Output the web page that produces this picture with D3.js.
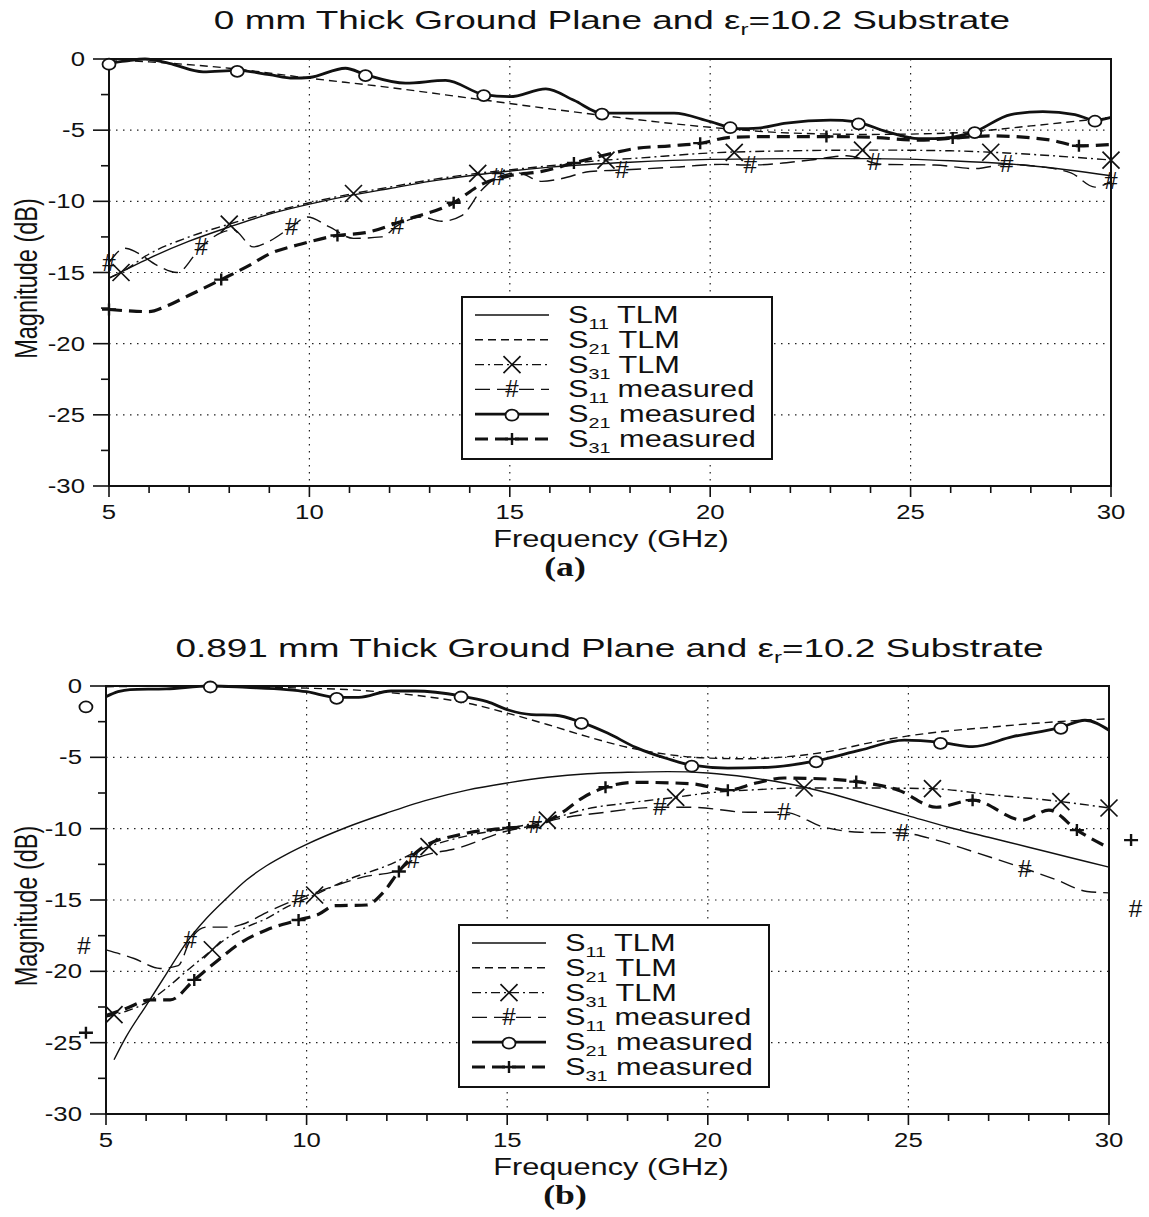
<!DOCTYPE html>
<html>
<head>
<meta charset="utf-8">
<script src="https://cdn.jsdelivr.net/npm/d3@7"></script>
<style>
  body { margin: 0; background: #fff; }
</style>
</head>
<body>
<svg id="fig" width="1149" height="1217"></svg>
<script>
// ---------- shared ----------
const freqTicks = [5, 10, 15, 20, 25, 30];
const dbTicks = [0, -5, -10, -15, -20, -25, -30];
const legendSub = ["11", "21", "31", "11", "21", "31"];
const legendTail = ["TLM", "TLM", "TLM", "measured", "measured", "measured"];
const seriesKeys = ["s11Tlm", "s21Tlm", "s31Tlm", "s11Meas", "s21Meas", "s31Meas"];

// ---------- panel (a): 0 mm ground plane ----------
const titleA = "0 mm Thick Ground Plane and ";
const s11TlmA = [[5,-15.4],[6,-14.0],[7,-12.8],[8,-11.8],[9,-10.9],[10,-10.2],[11,-9.6],[12,-9.1],[13,-8.6],[14,-8.2],[16,-7.6],[18,-7.25],[20,-7.05],[22,-7.0],[24,-7.0],[26,-7.15],[28,-7.5],[30,-8.2]];
const s21TlmA = [[5,-0.05],[6,-0.2],[8,-0.65],[10,-1.35],[12,-2.0],[14,-2.75],[16,-3.5],[18,-4.2],[20,-4.8],[22,-5.2],[24,-5.3],[26,-5.2],[28,-4.7],[30,-4.1]];
const s31TlmA = [[5,-15.4],[5.3,-15.0],[6,-13.7],[7,-12.5],[8,-11.6],[9,-10.8],[10,-10.1],[11,-9.5],[12,-9.0],[13,-8.5],[14,-8.1],[16,-7.5],[17.4,-7.1],[18,-7.0],[20,-6.6],[22,-6.45],[24,-6.4],[26,-6.45],[27,-6.55],[28,-6.7],[30,-7.1]];
const s11MeasA = [[5.0,-14.3],[5.4,-13.3],[5.7,-13.6],[6.2,-14.5],[6.7,-15.0],[7.3,-13.2],[7.8,-12.2],[8.1,-12.0],[8.6,-13.2],[9.0,-12.8],[9.55,-11.8],[9.95,-11.1],[10.5,-11.8],[11.1,-12.6],[11.8,-12.5],[12.2,-11.7],[12.8,-11.1],[13.3,-11.4],[13.8,-11.0],[14.3,-9.2],[14.7,-8.3],[15.2,-8.0],[15.8,-8.6],[16.3,-8.4],[17.0,-7.9],[17.8,-7.8],[19.1,-7.6],[20.3,-7.4],[21.0,-7.45],[22.5,-7.1],[23.4,-6.8],[24.3,-7.4],[25.6,-7.45],[26.6,-7.7],[27.4,-7.4],[28.0,-7.5],[29.0,-8.0],[29.6,-9.0],[30.0,-8.6]];
const s21MeasA = [[5,-0.3],[5.4,-0.15],[5.9,0],[6.5,-0.3],[7.35,-0.9],[8.2,-0.8],[9.0,-1.1],[9.6,-1.35],[10.0,-1.3],[10.9,-0.65],[11.4,-1.1],[12.4,-1.7],[13.4,-1.5],[14.35,-2.5],[15.0,-2.65],[15.9,-2.1],[16.6,-2.9],[17.3,-3.8],[18.2,-3.8],[19.1,-3.8],[20.0,-4.4],[20.7,-4.9],[21.2,-4.85],[21.9,-4.5],[23.0,-4.3],[23.6,-4.4],[24.4,-5.1],[25.2,-5.6],[25.6,-5.6],[26.6,-5.1],[27.5,-3.9],[28.3,-3.7],[29.1,-3.9],[29.6,-4.3],[30,-4.1]];
const s31MeasA = [[5,-17.6],[5.5,-17.7],[6,-17.75],[6.4,-17.4],[7,-16.6],[7.8,-15.5],[8.5,-14.5],[9,-13.7],[9.8,-13.0],[10.7,-12.4],[11.4,-12.2],[12.4,-11.3],[13.6,-10.1],[14.3,-8.8],[15,-8.2],[15.8,-7.9],[16.6,-7.3],[17.3,-6.8],[18.1,-6.3],[19.0,-6.1],[19.8,-5.9],[20.5,-5.5],[21.5,-5.45],[22.9,-5.45],[24.0,-5.5],[25.2,-5.7],[26.3,-5.5],[27.0,-5.4],[28.5,-5.7],[29.2,-6.1],[30,-6.0]];
const xMarksA = [5.3, 8.0, 11.1, 14.2, 17.4, 20.6, 23.8, 27.0, 30.0];
const hashMarksA = [5.0, 7.3, 9.55, 12.2, 14.7, 17.8, 21.0, 24.1, 27.4, 30.0];
const circMarksA = [5.0, 8.2, 11.4, 14.35, 17.3, 20.5, 23.7, 26.6, 29.6];
const plusMarksA = [5.0, 7.8, 10.7, 13.6, 16.6, 19.75, 22.9, 26.05, 29.2];
const strayA = [];

// ---------- panel (b): 0.891 mm ground plane ----------
const titleB = "0.891 mm Thick Ground Plane and ";
const s11TlmB = [[5.2,-26.2],[5.5,-24.6],[6,-22.4],[6.5,-20.2],[7,-18.0],[7.5,-16.3],[8,-14.9],[8.5,-13.6],[9,-12.6],[9.5,-11.8],[10,-11.1],[11,-9.9],[12,-8.9],[13,-8.0],[14,-7.3],[15,-6.8],[16,-6.4],[17,-6.15],[18,-6.05],[19,-6.0],[20,-6.1],[21,-6.4],[22,-6.85],[23,-7.5],[24,-8.3],[25,-9.1],[26,-9.9],[27,-10.6],[28,-11.3],[29,-12.0],[30,-12.7]];
const s21TlmB = [[5,-0.05],[7,0],[8,-0.05],[10,-0.15],[11,-0.25],[12,-0.45],[13,-0.75],[14,-1.2],[15,-1.9],[16,-2.7],[17,-3.55],[18,-4.3],[19,-4.8],[20,-5.05],[21,-5.1],[22,-4.95],[23,-4.6],[24,-4.0],[25,-3.5],[26,-3.15],[27,-2.9],[28,-2.65],[29,-2.45],[30,-2.3]];
const s31TlmB = [[5,-23.2],[5.5,-22.8],[6,-22.2],[6.5,-21.2],[7,-20.0],[7.6,-18.6],[8,-17.7],[8.5,-16.9],[9,-16.3],[9.5,-15.5],[10.2,-14.65],[11,-13.6],[12,-12.6],[13,-11.3],[14,-10.5],[15,-10.0],[16,-9.4],[17,-8.6],[18,-8.2],[19.2,-7.8],[20,-7.5],[21,-7.3],[22.4,-7.15],[24,-7.15],[25.6,-7.2],[27,-7.6],[28.8,-8.1],[30,-8.55]];
const s11MeasB = [[5.0,-18.5],[5.7,-19.1],[6.35,-19.8],[6.8,-19.6],[7.1,-17.8],[7.5,-16.9],[8.1,-16.9],[8.4,-16.7],[9.05,-15.8],[9.8,-14.9],[10.2,-14.5],[11.4,-13.4],[12.3,-12.9],[12.65,-12.2],[13.85,-11.3],[14.95,-10.2],[15.7,-9.75],[16.3,-9.3],[17.3,-8.9],[18.8,-8.5],[19.6,-8.5],[21.0,-8.85],[21.9,-8.85],[22.9,-9.9],[23.8,-10.25],[24.85,-10.3],[25.7,-10.8],[26.6,-11.6],[27.9,-12.8],[28.7,-13.6],[29.45,-14.4],[30.0,-14.5]];
const s21MeasB = [[5.0,-0.75],[5.3,-0.4],[5.6,-0.25],[6.5,-0.2],[7.6,0],[8.5,-0.1],[9.5,-0.25],[10.0,-0.4],[10.75,-0.8],[11.3,-0.8],[12.1,-0.35],[12.7,-0.35],[13.85,-0.7],[14.5,-1.1],[15.05,-1.7],[15.6,-2.0],[16.2,-2.05],[16.85,-2.55],[17.5,-3.3],[18.2,-4.3],[19.0,-5.1],[19.6,-5.55],[20.5,-5.75],[21.5,-5.7],[22.7,-5.25],[23.8,-4.5],[24.9,-3.8],[25.8,-3.95],[26.6,-4.25],[27.6,-3.55],[28.8,-2.9],[29.4,-2.4],[30.0,-3.1]];
const s31MeasB = [[5.0,-23.1],[5.5,-22.6],[6.1,-22.0],[6.6,-22.0],[7.2,-20.6],[7.8,-19.2],[8.3,-18.1],[9.0,-17.1],[9.8,-16.4],[10.3,-16.0],[10.7,-15.4],[11.5,-15.35],[11.9,-14.5],[12.3,-13.0],[12.85,-11.4],[13.85,-10.4],[15.05,-9.95],[15.7,-9.8],[16.3,-9.0],[16.9,-7.8],[17.45,-7.1],[18.2,-6.75],[19.6,-6.85],[20.5,-7.3],[21.2,-6.8],[21.9,-6.45],[22.8,-6.5],[23.7,-6.7],[24.75,-7.3],[25.7,-8.5],[26.6,-8.0],[27.85,-9.4],[28.5,-8.7],[29.2,-10.1],[30.0,-11.35]];
const xMarksB = [5.2, 7.65, 10.2, 13.05, 16.0, 19.2, 22.4, 25.6, 28.8, 30.0];
const hashMarksB = [7.1, 9.8, 12.65, 15.7, 18.8, 21.9, 24.85, 27.9];
const circMarksB = [7.6, 10.75, 13.85, 16.85, 19.6, 22.7, 25.8, 28.8];
const plusMarksB = [7.2, 9.8, 12.3, 15.05, 17.45, 20.5, 23.7, 26.6, 29.2];
// symbols left lying outside the frame in the scan
const strayB = [["circle", 4.5, -1.4], ["hash", 4.45, -18.2], ["plus", 4.5, -24.3], ["plus", 30.55, -10.8], ["hash", 30.66, -15.6]];

// ---------- styles ----------
const FONT = "'Liberation Sans', Arial, Helvetica, sans-serif";
const SX = 1.32; // the scanned figure is stretched horizontally
const lineStyle = {
  s11Tlm:  { w: 1.4, dash: null },
  s21Tlm:  { w: 1.4, dash: "8,5" },
  s31Tlm:  { w: 1.4, dash: "9,4,2,4" },
  s11Meas: { w: 1.4, dash: "15,7" },
  s21Meas: { w: 2.8, dash: null },
  s31Meas: { w: 3.2, dash: "13,7" }
};
const markerOf = { s31Tlm: "x", s11Meas: "hash", s21Meas: "circle", s31Meas: "plus" };

let svg = d3.select("#fig");

function stretched(g, x, y, size, anchor, sx) {
  return g.append("text")
    .attr("transform", "translate(" + x + "," + y + ") scale(" + sx + ",1)")
    .attr("font-family", FONT)
    .attr("font-size", size)
    .attr("text-anchor", anchor)
    .attr("fill", "#111");
}

function drawMarker(g, type, px, py) {
  if (type == "x") {
    let s = 8.5;
    g.append("path")
      .attr("d", `M${px - s},${py - s}L${px + s},${py + s}M${px - s},${py + s}L${px + s},${py - s}`)
      .attr("stroke", "#111").attr("stroke-width", 1.7).attr("fill", "none");
  } else if (type == "plus") {
    g.append("path")
      .attr("d", `M${px - 7},${py}L${px + 7},${py}M${px},${py - 6}L${px},${py + 6}`)
      .attr("stroke", "#111").attr("stroke-width", 2.4).attr("fill", "none");
  } else if (type == "circle") {
    g.append("ellipse")
      .attr("cx", px).attr("cy", py + 1)
      .attr("rx", 6.5).attr("ry", 5.5)
      .attr("fill", "#fff").attr("stroke", "#111").attr("stroke-width", 1.8);
  } else if (type == "hash") {
    stretched(g, px, py + 8, 23, "middle", 1.05).text("#");
  }
}

// linear position of a marker frequency along a series
function yAt(series, f) {
  let i = d3.bisector(d => d[0]).left(series, f);
  if (i <= 0) return series[0][1];
  if (i >= series.length) return series[series.length - 1][1];
  let a = series[i - 1], b = series[i];
  return a[1] + (b[1] - a[1]) * (f - a[0]) / (b[0] - a[0]);
}

function drawPanel(p) {
  let g = svg.append("g");
  let x = d3.scaleLinear().domain([5, 30]).range([p.left, p.right]);
  let y = d3.scaleLinear().domain([-30, 0]).range([p.bottom, p.top]);

  // Title.
  let t = stretched(g, (p.left + p.right) / 2 + 2, p.titleY, 26, "middle", 1.42);
  t.append("tspan").text(p.title + "\u03b5");
  t.append("tspan").attr("font-size", 17).attr("dy", 6).text("r");
  t.append("tspan").attr("dy", -6).text("=10.2 Substrate");

  // Dotted grid.
  let grid = g.append("g").attr("stroke", "#222").attr("stroke-width", 1.2).attr("stroke-dasharray", "1.5,5.5");
  freqTicks.slice(1, -1).forEach(f => {
    grid.append("line").attr("x1", x(f)).attr("x2", x(f)).attr("y1", p.top).attr("y2", p.bottom);
  });
  dbTicks.slice(1, -1).forEach(v => {
    grid.append("line").attr("x1", p.left).attr("x2", p.right).attr("y1", y(v)).attr("y2", y(v));
  });

  // Frame.
  g.append("rect")
    .attr("x", p.left).attr("y", p.top)
    .attr("width", p.right - p.left).attr("height", p.bottom - p.top)
    .attr("fill", "none").attr("stroke", "#111").attr("stroke-width", 2);

  // Ticks: major every 5 dB / 5 GHz, minor at half steps and every GHz.
  let ticks = g.append("g").attr("stroke", "#111").attr("stroke-width", 1.6);
  d3.range(-30, 0.1, 2.5).forEach(v => {
    let major = v % 5 == 0;
    ticks.append("line").attr("x1", p.left - (major ? 16 : 8)).attr("x2", p.left)
      .attr("y1", y(v)).attr("y2", y(v));
  });
  d3.range(5, 30.1, 1).forEach(f => {
    let major = f % 5 == 0;
    ticks.append("line").attr("x1", x(f)).attr("x2", x(f))
      .attr("y1", p.bottom).attr("y2", p.bottom + (major ? 11 : 7));
  });

  // Tick labels.
  dbTicks.forEach(v => {
    stretched(g, p.left - 24, y(v) + 7, 19.5, "end", SX).text(v);
  });
  freqTicks.forEach(f => {
    stretched(g, x(f), p.bottom + 33, 19.5, "middle", SX).text(f);
  });

  // Axis titles and panel letter.
  stretched(g, 611, p.bottom + 61, 23.3, "middle", SX).text("Frequency (GHz)");
  g.append("text")
    .attr("transform", "translate(37," + ((p.top + p.bottom) / 2 + 6) + ") scale(" + SX + ",1) rotate(-90)")
    .attr("font-family", FONT).attr("font-size", 23.5).attr("text-anchor", "middle").attr("fill", "#111")
    .text("Magnitude (dB)");
  stretched(g, 565, p.bottom + 90, 27, "middle", SX)
    .attr("font-family", "'Liberation Serif', 'Times New Roman', serif").attr("font-weight", "bold")
    .text(p.letter);

  // Curves.
  let line = d3.line().x(d => x(d[0])).y(d => y(d[1])).curve(d3.curveMonotoneX);
  seriesKeys.forEach(k => {
    let st = lineStyle[k];
    g.append("path")
      .attr("d", line(p.series[k]))
      .attr("fill", "none").attr("stroke", "#111")
      .attr("stroke-width", st.w)
      .attr("stroke-dasharray", st.dash)
      .attr("stroke-linejoin", "round");
  });

  // Markers along the curves.
  let mk = g.append("g");
  Object.keys(p.marks).forEach(k => {
    p.marks[k].forEach(f => drawMarker(mk, markerOf[k], x(f), y(yAt(p.series[k], f))));
  });
  p.stray.forEach(s => drawMarker(mk, s[0], x(s[1]), y(s[2])));

  // Legend.
  let lg = g.append("g");
  lg.append("rect")
    .attr("x", p.legend[0]).attr("y", p.legend[1])
    .attr("width", 310).attr("height", 162)
    .attr("fill", "#fff").attr("stroke", "#111").attr("stroke-width", 2);
  seriesKeys.forEach((k, i) => {
    let ry = p.legend[1] + 18 + i * 24.8;
    let st = lineStyle[k];
    lg.append("line")
      .attr("x1", p.legend[0] + 13).attr("x2", p.legend[0] + 87)
      .attr("y1", ry).attr("y2", ry)
      .attr("stroke", "#111").attr("stroke-width", st.w)
      .attr("stroke-dasharray", st.dash);
    if (markerOf[k]) drawMarker(lg, markerOf[k], p.legend[0] + 50, ry);
    let lt = stretched(lg, p.legend[0] + 106, ry + 8, 23.3, "start", SX);
    lt.append("tspan").text("S");
    lt.append("tspan").attr("font-size", 15).attr("dy", 6).text(legendSub[i]);
    lt.append("tspan").attr("dy", -6).text(" " + legendTail[i]);
  });
}

drawPanel({
  title: titleA, letter: "(a)",
  left: 109, right: 1111, top: 59, bottom: 486, titleY: 29,
  legend: [462, 297],
  series: { s11Tlm: s11TlmA, s21Tlm: s21TlmA, s31Tlm: s31TlmA, s11Meas: s11MeasA, s21Meas: s21MeasA, s31Meas: s31MeasA },
  marks: { s31Tlm: xMarksA, s11Meas: hashMarksA, s21Meas: circMarksA, s31Meas: plusMarksA },
  stray: strayA
});

drawPanel({
  title: titleB, letter: "(b)",
  left: 106, right: 1109, top: 686, bottom: 1114, titleY: 657,
  legend: [459, 925],
  series: { s11Tlm: s11TlmB, s21Tlm: s21TlmB, s31Tlm: s31TlmB, s11Meas: s11MeasB, s21Meas: s21MeasB, s31Meas: s31MeasB },
  marks: { s31Tlm: xMarksB, s11Meas: hashMarksB, s21Meas: circMarksB, s31Meas: plusMarksB },
  stray: strayB
});
</script>
</body>
</html>
